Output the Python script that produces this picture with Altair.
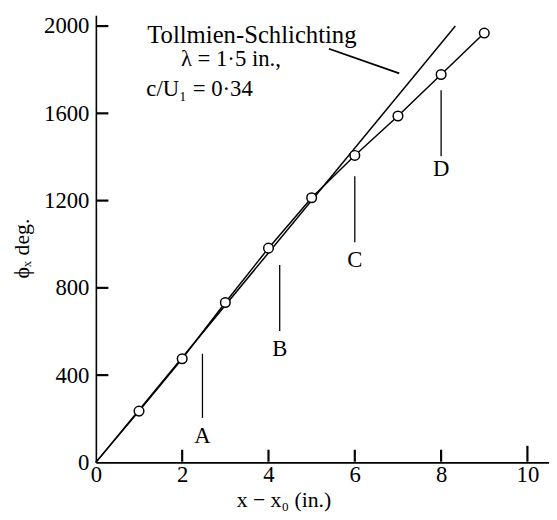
import altair as alt
import pandas as pd

# ---- data ----
x_in = [0, 1, 2, 3, 4, 5, 6, 7, 8, 9]
phi_deg = [0, 235, 475, 733, 982, 1213, 1407, 1588, 1778, 1968]

ts_x = [0, 8.33]          # Tollmien-Schlichting theory line
ts_phi = [0, 2000]

x_tick_vals = [0, 2, 4, 6, 8, 10]
y_tick_vals = [0, 400, 800, 1200, 1600, 2000]

markers = ["A", "B", "C", "D"]
marker_x = [2.47, 4.26, 6.0, 8.0]
marker_top = [498, 905, 1312, 1706]
marker_bot = [204, 602, 1009, 1403]
marker_text_y = [90, 489, 896, 1312]

FONT = "Liberation Serif"
FS = 23

xscale = alt.Scale(domain=[0, 10.5], nice=False, zero=False)
yscale = alt.Scale(domain=[0, 2050], nice=False, zero=False)

x_axis = alt.Axis(values=x_tick_vals, title="x − x₀ (in.)", ticks=False, tickSize=0,
                  grid=False, labelPadding=1, labelFlush=False, format="d",
                  titleX=190, titleY=45, titleBaseline="alphabetic",
                  titleAlign="center", zindex=0)
y_axis = alt.Axis(values=y_tick_vals, title="ϕₓ deg.", ticks=False, tickSize=0,
                  grid=False, labelPadding=7, labelFlush=False, format="d",
                  titleX=-68, titleY=236, titleAngle=270, titleBaseline="alphabetic",
                  titleAlign="center", zindex=0)


def X(field):
    return alt.X(field, type="quantitative", scale=xscale, axis=x_axis)


def Y(field):
    return alt.Y(field, type="quantitative", scale=yscale, axis=y_axis)


ts_df = pd.DataFrame({"x": ts_x, "y": ts_phi})
ts_layer = alt.Chart(ts_df).mark_line(color="black", strokeWidth=1.5).encode(
    x=X("x"), y=Y("y"))

meas = pd.DataFrame({"x": x_in, "y": phi_deg})
line_layer = alt.Chart(meas).mark_line(color="black", strokeWidth=1.5).encode(
    x=X("x"), y=Y("y"))
pts_layer = alt.Chart(meas[meas.x > 0]).mark_point(
    shape="circle", size=95, filled=True, fill="white", stroke="black",
    strokeWidth=1.5, opacity=1).encode(x=X("x"), y=Y("y"))

mk = pd.DataFrame({"m": markers, "x": marker_x, "top": marker_top,
                   "bot": marker_bot, "ty": marker_text_y})
mk_rules = alt.Chart(mk).mark_rule(color="black", strokeWidth=1.3).encode(
    x=X("x"), y=Y("bot"), y2=alt.Y2("top"))
mk_text = alt.Chart(mk).mark_text(font=FONT, fontSize=FS, align="center",
                                  baseline="alphabetic", color="black").encode(
    x=X("x"), y=Y("ty"), text="m:N")

callout = pd.DataFrame({"x": [5.40], "y": [1896.0], "x2": [7.03], "y2": [1783.0]})
callout_layer = alt.Chart(callout).mark_rule(color="black", strokeWidth=1.8).encode(
    x=X("x"), y=Y("y"), x2=alt.X2("x2"), y2=alt.Y2("y2"))

notes = pd.DataFrame({
    "t": ["Tollmien-Schlichting", "λ = 1·5 in.,", "c/U₁ = 0·34"],
    "x": [1.19, 1.97, 1.17],
    "y": [1923, 1819, 1679],
    "fs": [25, 23, 23],
})
notes_layer = alt.Chart(notes).mark_text(font=FONT, align="left",
                                         baseline="alphabetic", color="black").encode(
    x=X("x"), y=Y("y"), text="t:N",
    size=alt.Size("fs:Q", scale=None, legend=None))

# inward tick marks
xt = pd.DataFrame({"x": [float(v) for v in x_tick_vals[1:]],
                   "bot": [3.0] * 5, "top": [58.0, 58.0, 58.0, 58.0, 76.0]})
yt = pd.DataFrame({"y": [float(v) for v in y_tick_vals[1:]],
                   "left": [0.02] * 5, "right": [0.29] * 5})
xtick_layer = alt.Chart(xt).mark_rule(color="black", strokeWidth=2.2).encode(
    x=X("x"), y=Y("bot"), y2=alt.Y2("top"))
ytick_layer = alt.Chart(yt).mark_rule(color="black", strokeWidth=2.2).encode(
    y=Y("y"), x=X("left"), x2=alt.X2("right"))

chart = alt.layer(
    ts_layer, line_layer, pts_layer,
    mk_rules, mk_text, callout_layer, notes_layer, xtick_layer, ytick_layer
).properties(
    width=459, height=453,
    autosize=alt.AutoSizeParams(type="none"),
    padding={"left": 89, "top": 4, "right": 0, "bottom": 47},
).configure_view(stroke=None).configure_axis(
    domainColor="black", domainWidth=1.6, labelFont=FONT, labelFontSize=FS,
    labelColor="black", titleFont=FONT, titleFontSize=22, titleColor="black",
    titleFontWeight="normal"
)

chart.save("out.html", embed_options={"renderer": "svg", "actions": False})
